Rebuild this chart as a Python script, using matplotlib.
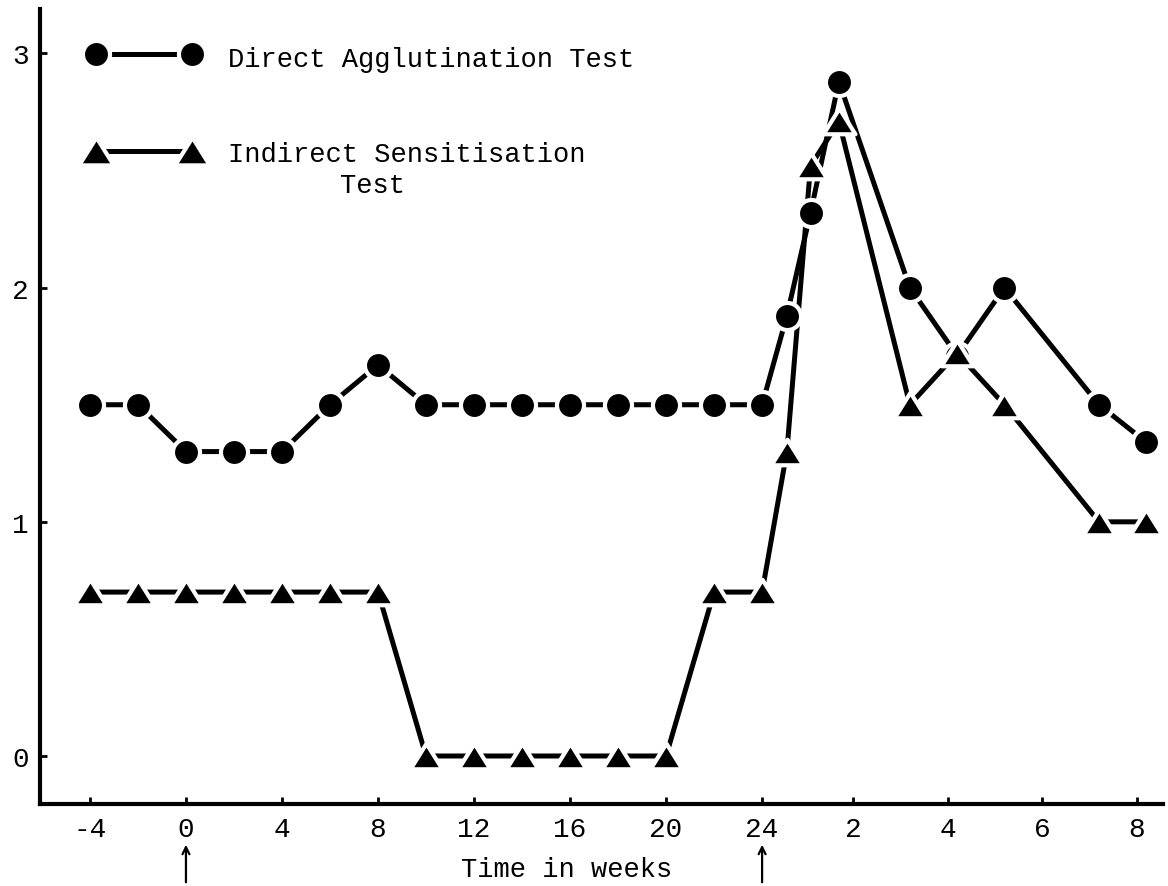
import matplotlib
matplotlib.use("Agg")
import matplotlib.pyplot as plt
from matplotlib.path import Path
from matplotlib.lines import Line2D

# ---- data ----
# first period: weeks -4..24 ; second period: weeks after the second arrow (24)
weeks_first = [-4, -2, 0, 2, 4, 6, 8, 10, 12, 14, 16, 18, 20, 22, 24]
weeks_second = [0.6, 1.1, 1.7, 3.2, 4.2, 5.2, 7.2, 8.2]

dat_first = [1.5, 1.5, 1.3, 1.3, 1.3, 1.5, 1.67, 1.5, 1.5, 1.5, 1.5, 1.5, 1.5, 1.5, 1.5]
dat_second = [1.88, 2.32, 2.88, 2.0, 1.71, 2.0, 1.5, 1.34]

ist_first = [0.7, 0.7, 0.7, 0.7, 0.7, 0.7, 0.7, 0, 0, 0, 0, 0, 0, 0.7, 0.7]
ist_second = [1.3, 2.52, 2.71, 1.5, 1.72, 1.5, 1.0, 1.0]

ticks_first = [-4, 0, 4, 8, 12, 16, 20, 24]
ticks_second = [2, 4, 6, 8]
tick_labels = ["-4", "0", "4", "8", "12", "16", "20", "24", "2", "4", "6", "8"]
yticks = [0, 1, 2, 3]
ytick_labels = ["0", "1", "2", "3"]
arrow_weeks = [0, 24]

legend_labels = ["Direct Agglutination Test", "Indirect Sensitisation", "Test"]
xlabel = "Time in weeks"

# second period drawn on an expanded scale (about 2x)
def second_pos(w):
    return 23.85 + 1.97 * w

x_all = weeks_first + [second_pos(w) for w in weeks_second]
dat_all = dat_first + dat_second
ist_all = ist_first + ist_second
xtick_pos = ticks_first + [second_pos(w) for w in ticks_second]

FONT = "Liberation Mono"
plt.rcParams["font.family"] = [FONT, "DejaVu Sans Mono"]

W, H = 1168, 887
fig = plt.figure(figsize=(W / 100, H / 100), dpi=100)
ax = fig.add_axes([40 / W, 1 - 805 / H, (1163 - 40) / W, (805 - 10) / H])

tri = Path([(-1, -0.8), (1, -0.8), (0, 0.8), (-1, -0.8)],
           [Path.MOVETO, Path.LINETO, Path.LINETO, Path.CLOSEPOLY])

lw = 3.6
ax.plot(x_all, dat_all, color="black", lw=lw, zorder=2, solid_capstyle="butt")
ax.plot(x_all, ist_all, color="black", lw=lw, zorder=2, solid_capstyle="butt")
ax.plot(x_all, dat_all, ls="none", marker="o", ms=19.5, mfc="black",
        mec="white", mew=3, zorder=3)
ax.plot(x_all, ist_all, ls="none", marker=tri, ms=23, mfc="black",
        mec="white", mew=3, zorder=3)

ax.set_xlim(-6.08, 40.7)
ax.set_ylim(-0.205, 3.19)

ax.set_xticks(xtick_pos)
ax.set_xticklabels(tick_labels, fontsize=20)
ax.set_yticks(yticks)
ax.set_yticklabels(ytick_labels, fontsize=20)
ax.tick_params(axis="x", direction="in", length=5, width=2, pad=9)
ax.tick_params(axis="y", direction="in", length=5, width=2, pad=8)

for s in ["top", "right"]:
    ax.spines[s].set_visible(False)
for s in ["left", "bottom"]:
    ax.spines[s].set_linewidth(3)

# legend drawn manually in figure pixels
def fx(px):
    return px / W

def fy(py):
    return 1 - py / H

for (ypx, mk, ms) in [(55, "o", 19.5), (152, tri, 25)]:
    fig.add_artist(Line2D([fx(96), fx(192)], [fy(ypx), fy(ypx)], color="black",
                          lw=lw, transform=fig.transFigure, zorder=2))
    fig.add_artist(Line2D([fx(96), fx(192)], [fy(ypx), fy(ypx)], ls="none",
                          marker=mk, ms=ms, mfc="black", mec="white", mew=3,
                          transform=fig.transFigure, zorder=3))

fig.text(fx(228), fy(60), legend_labels[0], fontsize=19.5, va="center", ha="left")
fig.text(fx(228), fy(155), legend_labels[1], fontsize=19.5, va="center", ha="left")
fig.text(fx(340), fy(186), legend_labels[2], fontsize=19.5, va="center", ha="left")

fig.text(fx(567), fy(870), xlabel, fontsize=19.5, ha="center", va="center")

for w in arrow_weeks:
    ax.annotate("", xy=(w, fy(843)), xycoords=("data", "figure fraction"),
                xytext=(w, fy(886)), textcoords=("data", "figure fraction"),
                arrowprops=dict(arrowstyle="->,head_length=0.5,head_width=0.25",
                                lw=1.6, color="black"),
                annotation_clip=False)

fig.savefig("out.png", dpi=100, facecolor="white")
